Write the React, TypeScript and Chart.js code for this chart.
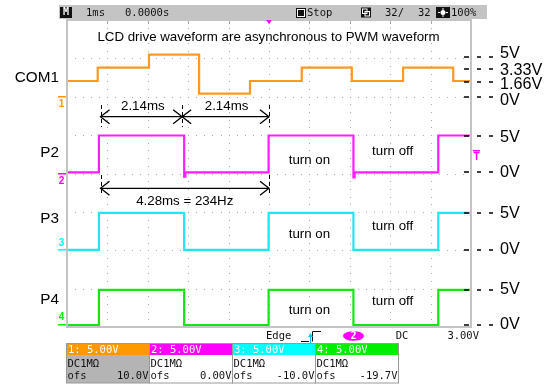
import React, { useEffect, useRef } from "react";
import { Chart, registerables } from "chart.js";
Chart.register(...registerables);

// ---- scope settings ----
const X_MIN_MS = -5;
const X_MAX_MS = 5;
const Y_DIVS = 8;
const VOLTS_PER_DIV = [5, 5, 5, 5];
const CH_OFFSET_V = [10.0, 0.0, -10.0, -19.7];
const CH_NAMES = ["COM1", "P2", "P3", "P4"];
const TRIGGER_CH = 1;
const TRIGGER_LEVEL_V = 3.0;

// ---- traces: edge times (ms) and level after each edge (V) ----
const COM1_T = [-5, -4.24, -2.97, -1.73, -0.47, 0.81, 2.05, 3.32, 4.56, 5];
const COM1_V = [2.05, 3.8, 5.5, 0.4, 2.05, 3.8, 2.05, 3.8, 2.05, 2.05];
const P2_T = [-5, -4.21, -2.1, -2.07, -0.01, 2.09, 2.12, 4.19, 5];
const P2_V = [0.15, 4.95, -0.4, 0.15, 4.95, -0.5, 0.15, 4.95, 4.95];
const P3_T = [-5, -4.21, -2.1, -0.01, 2.09, 4.19, 5];
const P3_V = [0.05, 4.88, 0.05, 4.88, 0.05, 4.88, 4.88];
const P4_T = [-5, -4.21, -2.1, -0.01, 2.09, 4.19, 5];
const P4_V = [-0.05, 4.55, -0.05, 4.55, -0.05, 4.55, 4.55];

// ---- annotation values ----
const TITLE = "LCD drive waveform are asynchronous to PWM waveform";
const MARK_T = [-4.17, -2.15, 0.0];
const HALF_LABELS = ["2.14ms", "2.14ms"];
const PERIOD_LABEL = "4.28ms = 234Hz";
const RIGHT_LABEL_CH = [0, 0, 0, 0, 1, 1, 2, 2, 3, 3];
const RIGHT_LABEL_V = [5, 3.33, 1.66, 0, 5, 0, 5, 0, 5, 0];
const RIGHT_LABEL_TEXT = ["5V", "3.33V", "1.66V", "0V", "5V", "0V", "5V", "0V", "5V", "0V"];
const STATE_LABELS = ["turn on", "turn off"];
const STATE_T = [1.0, 3.06];

// ---- styles ----
const TRACE_COLORS = ["#ff9a1e", "#ff1eff", "#1ee6f5", "#14e614"];
const HEADER_COLORS = ["#ff9900", "#ff00ff", "#00ffff", "#00ee00"];
const GRID = "#a9a9a9";
const FRAME = "#c4c4c4";
const SANS = "'Liberation Sans', Arial, sans-serif";
const MONO = "'DejaVu Sans Mono', monospace";
const RL_DASH_DY = [-1.1, -2.2, -2.35, 0.2, 0.5, -1.6, 1, -0.4, 3.5, 0.1];
const RL_TEXT_DY = [-4.6, -0.7, 1, 3.7, 2.3, -1.1, 2, -0.4, 3.5, 0.1];
const LEFT_LABEL_Y = [78, 153, 219, 300];
const STATE_Y = [[160, 151.7], [234.3, 226.7], [310, 301.7]];

function toDiv(v: number, ch: number) {
  return (v + CH_OFFSET_V[ch]) / VOLTS_PER_DIV[ch];
}

function arrowHead(ctx: CanvasRenderingContext2D, x: number, y: number, dir: number) {
  ctx.beginPath();
  ctx.moveTo(x - dir * 9, y - 7);
  ctx.lineTo(x, y);
  ctx.lineTo(x - dir * 9, y + 7);
  ctx.stroke();
}

function dashedV(ctx: CanvasRenderingContext2D, x: number, y1: number, y2: number) {
  ctx.save();
  ctx.setLineDash([4, 3]);
  ctx.beginPath();
  ctx.moveTo(x, y1);
  ctx.lineTo(x, y2);
  ctx.stroke();
  ctx.restore();
}

const scopePlugin = {
  id: "scope",
  beforeDatasetsDraw(chart: any) {
    const ctx: CanvasRenderingContext2D = chart.ctx;
    const { top } = chart.chartArea;
    const xs = chart.scales.x;
    const ys = chart.scales.y;
    ctx.save();
    ctx.fillStyle = GRID;
    for (let i = 1; i < 10; i++) {
      const x = Math.round(xs.getPixelForValue(X_MIN_MS + i));
      for (let j = 0; j <= Y_DIVS * 5; j++) {
        const y = Math.round(ys.getPixelForValue(-4 + j * 0.2));
        ctx.fillRect(x, y, 1, 1);
      }
      ctx.fillRect(x, top, 1, 4);
    }
    for (let j = 1; j < Y_DIVS; j++) {
      const y = Math.round(ys.getPixelForValue(-4 + j));
      for (let i = 0; i <= 50; i++) {
        const x = Math.round(xs.getPixelForValue(X_MIN_MS + i * 0.2));
        ctx.fillRect(x, y, 1, 1);
      }
    }
    ctx.restore();
  },
  afterDatasetsDraw(chart: any) {
    const ctx: CanvasRenderingContext2D = chart.ctx;
    const { left, top, right, bottom } = chart.chartArea;
    const xs = chart.scales.x;
    const ys = chart.scales.y;
    ctx.save();
    // frame
    ctx.strokeStyle = FRAME;
    ctx.lineWidth = 2;
    ctx.strokeRect(left, top, right - left, bottom - top);
    // trigger position marker
    const xt = xs.getPixelForValue(0);
    ctx.fillStyle = "#ff00ff";
    ctx.beginPath();
    ctx.moveTo(xt - 3, top);
    ctx.lineTo(xt + 3, top);
    ctx.lineTo(xt, top + 4);
    ctx.closePath();
    ctx.fill();

    // top status bar
    ctx.fillStyle = "#c4c4c4";
    ctx.fillRect(59, 5, 428, 14);
    ctx.fillStyle = "#111";
    ctx.fillRect(60, 7, 12, 11);
    ctx.font = `bold 10px ${MONO}`;
    ctx.textBaseline = "middle";
    ctx.textAlign = "center";
    ctx.fillStyle = "#fff";
    ctx.fillText("M", 66, 12.8);
    ctx.fillStyle = "#111";
    ctx.textAlign = "left";
    ctx.font = `10.5px ${MONO}`;
    ctx.fillText("1ms", 86, 12.8);
    ctx.fillText("0.0000s", 125, 12.8);
    ctx.fillRect(296, 8, 10, 10);
    ctx.strokeStyle = "#fff";
    ctx.lineWidth = 1;
    ctx.strokeRect(297.5, 9.5, 7, 7);
    ctx.fillText("Stop", 307, 12.8);
    ctx.fillRect(361, 7.5, 10, 10);
    ctx.strokeRect(362.5, 9, 4.5, 4.5);
    ctx.strokeRect(365, 11.5, 4.5, 4.5);
    ctx.fillText("32/", 385, 12.8);
    ctx.fillText("32", 418, 12.8);
    ctx.fillRect(436, 7, 14, 11);
    ctx.fillStyle = "#fff";
    ctx.beginPath();
    ctx.arc(443, 12.5, 2.5, 0, Math.PI * 2);
    ctx.fill();
    ctx.fillRect(442.5, 8, 1, 2);
    ctx.fillRect(442.5, 15, 1, 2);
    ctx.fillRect(438, 12, 2, 1);
    ctx.fillRect(446, 12, 2, 1);
    ctx.fillStyle = "#111";
    ctx.fillText("100%", 451, 12.8);

    // title
    ctx.fillStyle = "#000";
    ctx.font = `13.3px ${SANS}`;
    ctx.textAlign = "center";
    ctx.fillText(TITLE, 268.5, 37);

    // left labels
    ctx.font = `15.3px ${SANS}`;
    ctx.textAlign = "right";
    CH_NAMES.forEach((n, i) => ctx.fillText(n, 59, LEFT_LABEL_Y[i]));

    // channel ground markers
    ctx.font = `bold 10px ${SANS}`;
    ctx.textAlign = "center";
    for (let ch = 0; ch < 4; ch++) {
      const y = ys.getPixelForValue(toDiv(0, ch));
      ctx.fillStyle = HEADER_COLORS[ch];
      ctx.fillRect(58, Math.round(y) - 1, 8, 1.5);
      ctx.fillText(String(ch + 1), 61.5, ch < 2 ? y + 7.5 : y - 7);
    }

    // trigger level marker
    const yT = ys.getPixelForValue(toDiv(TRIGGER_LEVEL_V, TRIGGER_CH));
    ctx.fillStyle = "#ff00ff";
    ctx.fillRect(473, Math.round(yT), 7, 1.5);
    ctx.font = `bold 10px ${SANS}`;
    ctx.fillText("T", 476.5, yT + 7);

    // right labels
    ctx.fillStyle = "#000";
    ctx.font = `16.2px ${SANS}`;
    ctx.textAlign = "left";
    RIGHT_LABEL_V.forEach((v, i) => {
      const y = ys.getPixelForValue(toDiv(v, RIGHT_LABEL_CH[i]));
      const yd = Math.round(y + RL_DASH_DY[i]) - 0.75;
      ctx.fillRect(464, yd, 5, 1.5);
      ctx.fillRect(477, yd, 4, 1.5);
      ctx.fillRect(489, yd, 4, 1.5);
      ctx.fillText(RIGHT_LABEL_TEXT[i], 500, y + RL_TEXT_DY[i]);
    });

    // timing annotations
    const mx = MARK_T.map((t) => xs.getPixelForValue(t));
    ctx.strokeStyle = "#000";
    ctx.lineWidth = 1;
    mx.forEach((x) => dashedV(ctx, Math.round(x) + 0.5, 105, 127));
    [mx[0], mx[2]].forEach((x) => dashedV(ctx, Math.round(x) + 0.5, 175, 196));
    ctx.lineWidth = 1.3;
    const ya = 116.7;
    ctx.beginPath();
    ctx.moveTo(mx[0], ya);
    ctx.lineTo(mx[2], ya);
    ctx.stroke();
    arrowHead(ctx, mx[0], ya, -1);
    arrowHead(ctx, mx[1], ya, 1);
    arrowHead(ctx, mx[1], ya, -1);
    arrowHead(ctx, mx[2], ya, 1);
    const yb = 188.3;
    ctx.beginPath();
    ctx.moveTo(mx[0], yb);
    ctx.lineTo(mx[2], yb);
    ctx.stroke();
    arrowHead(ctx, mx[0], yb, -1);
    arrowHead(ctx, mx[2], yb, 1);
    ctx.font = `13.3px ${SANS}`;
    ctx.textAlign = "center";
    ctx.fillText(HALF_LABELS[0], (mx[0] + mx[1]) / 2 + 1.5, 106);
    ctx.fillText(HALF_LABELS[1], (mx[1] + mx[2]) / 2 + 1, 106);
    ctx.fillText(PERIOD_LABEL, (mx[0] + mx[2]) / 2, 201.7);

    // turn on / off
    STATE_Y.forEach((ys2) => {
      STATE_LABELS.forEach((s, k) => {
        ctx.fillText(s, xs.getPixelForValue(STATE_T[k]), ys2[k]);
      });
    });

    // bottom trigger info
    ctx.font = `10.5px ${MONO}`;
    ctx.fillStyle = "#111";
    ctx.textAlign = "left";
    ctx.fillText("Edge", 266, 336.5);
    ctx.strokeStyle = "#111";
    ctx.lineWidth = 1;
    ctx.beginPath();
    ctx.moveTo(301, 341.5);
    ctx.lineTo(309, 341.5);
    ctx.moveTo(312.5, 341.5);
    ctx.lineTo(312.5, 331.5);
    ctx.lineTo(321, 331.5);
    ctx.stroke();
    ctx.strokeStyle = "#00c8ff";
    ctx.fillStyle = "#00c8ff";
    ctx.beginPath();
    ctx.moveTo(310.5, 343);
    ctx.lineTo(310.5, 336);
    ctx.stroke();
    ctx.beginPath();
    ctx.moveTo(308, 337);
    ctx.lineTo(313, 337);
    ctx.lineTo(310.5, 333);
    ctx.closePath();
    ctx.fill();
    ctx.fillStyle = "#ff00ff";
    ctx.beginPath();
    ctx.ellipse(353.5, 336, 10.5, 4.8, 0, 0, Math.PI * 2);
    ctx.fill();
    ctx.fillStyle = "#fff";
    ctx.textAlign = "center";
    ctx.font = `bold 10px ${MONO}`;
    ctx.fillText(String(TRIGGER_CH + 1), 353.5, 336.5);
    ctx.fillStyle = "#111";
    ctx.font = `10.5px ${MONO}`;
    ctx.fillText("DC", 402, 336.5);
    ctx.textAlign = "right";
    ctx.fillText(TRIGGER_LEVEL_V.toFixed(2) + "V", 479, 336.5);

    // channel boxes
    const bx = [66.5, 149.5, 232.5, 315.5];
    const bw = 83;
    for (let ch = 0; ch < 4; ch++) {
      const x = bx[ch];
      ctx.fillStyle = HEADER_COLORS[ch];
      ctx.fillRect(x, 343.5, bw, 11.5);
      ctx.fillStyle = ch === 0 ? "#b4b4b4" : "#ffffff";
      ctx.fillRect(x, 355, bw, 28);
      ctx.strokeStyle = "#9a9a9a";
      ctx.lineWidth = 1;
      ctx.strokeRect(x, 343.5, bw, 39.5);
      ctx.fillStyle = "#fff";
      ctx.textAlign = "left";
      ctx.fillText(`${ch + 1}: ${VOLTS_PER_DIV[ch].toFixed(2)}V`, x + 1.5, 349.8);
      ctx.fillStyle = "#111";
      ctx.fillText("DC1M\u03a9", x + 1, 364.5);
      ctx.fillText("ofs", x + 1, 376.5);
      ctx.textAlign = "right";
      ctx.fillText(CH_OFFSET_V[ch].toPrecision(3) + "V", x + bw - 1, 376.5);
    }
    ctx.restore();
  },
};

export default function App() {
  const ref = useRef<HTMLCanvasElement>(null);
  useEffect(() => {
    const canvas = ref.current!;
    const mk = (T: number[], V: number[], ch: number) =>
      T.map((t, i) => ({ x: t, y: toDiv(V[i], ch) }));
    const series = [
      mk(COM1_T, COM1_V, 0),
      mk(P2_T, P2_V, 1),
      mk(P3_T, P3_V, 2),
      mk(P4_T, P4_V, 3),
    ];
    const chart = new Chart(canvas, {
      type: "line",
      data: {
        datasets: series.map((d, i) => ({
          label: CH_NAMES[i],
          data: d,
          borderColor: TRACE_COLORS[i],
          borderWidth: 2.2,
          stepped: true,
          pointRadius: 0,
          fill: false,
        })),
      },
      options: {
        animation: false,
        responsive: false,
        devicePixelRatio: 1,
        layout: { padding: { left: 67, top: 20, right: 78, bottom: 58 } },
        scales: {
          x: { type: "linear", min: X_MIN_MS, max: X_MAX_MS, display: false },
          y: { type: "linear", min: -Y_DIVS / 2, max: Y_DIVS / 2, display: false },
        },
        plugins: { legend: { display: false }, tooltip: { enabled: false } },
      },
      plugins: [scopePlugin],
    } as any);
    return () => chart.destroy();
  }, []);
  return (
    <div style={{ position: "fixed", left: 0, top: 0, width: 549, height: 385, background: "#fff" }}>
      <canvas ref={ref} width={549} height={385} style={{ display: "block" }} />
    </div>
  );
}
